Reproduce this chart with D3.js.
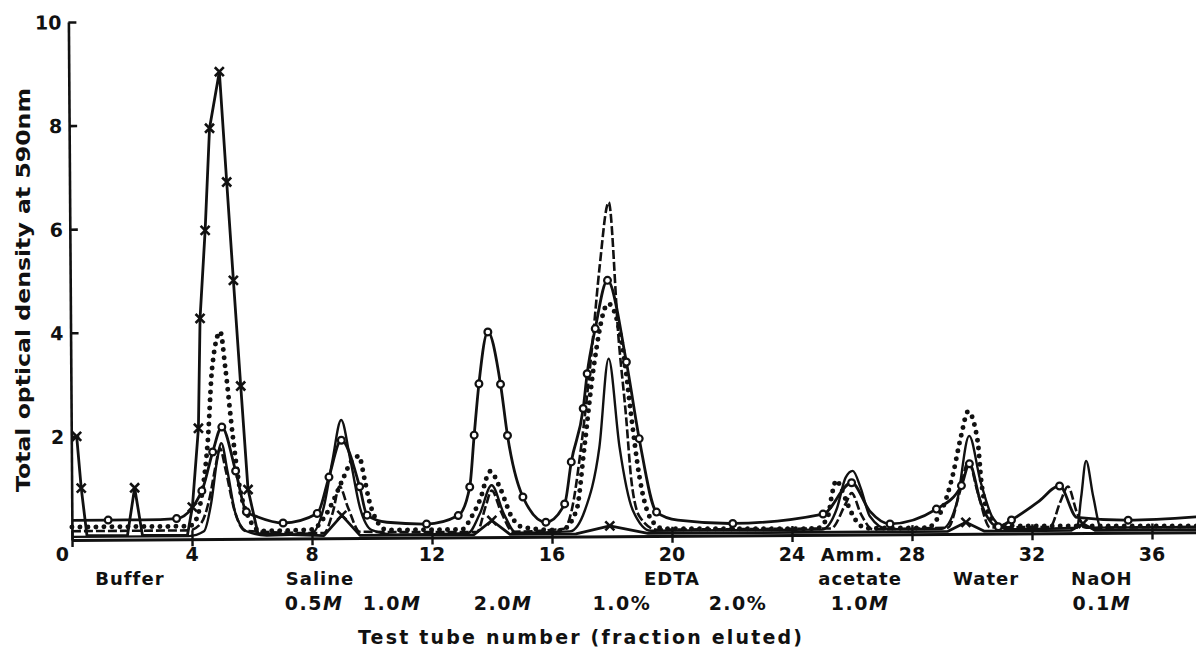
<!DOCTYPE html>
<html><head><meta charset="utf-8">
<script src="https://cdn.jsdelivr.net/npm/d3@7"></script>
<style>
html,body{margin:0;padding:0;background:#fff;}
svg{display:block;}
text{font-family:"DejaVu Sans",sans-serif;font-weight:bold;fill:#111;}
</style></head><body>
<svg id="chart" width="1196" height="647"></svg>
<script>
// ---------- data ----------
const xTicks = [0,4,8,12,16,20,24,28,32,36];
const yTicks = [2,4,6,8,10];

// [tube, optical density, marker(1/0)]
const crossSeries = [[0.18,2.0,1],[0.32,1.0,1],[0.5,0.08,0],[1.85,0.08,0],[2.1,1.0,1],[2.35,0.08,0],[3.85,0.08,0],[4.02,0.62,1],[4.24,2.14,1],[4.32,4.26,1],[4.51,5.96,1],[4.68,7.93,1],[5.02,9.02,1],[5.24,6.89,1],[5.44,4.99,1],[5.66,2.95,1],[5.88,0.95,1],[6.2,0.1,0],[8.4,0.05,0],[9.0,0.44,1],[9.6,0.05,0],[13.4,0.05,0],[14.0,0.32,1],[14.6,0.05,0],[16.8,0.05,0],[17.93,0.2,1],[19.2,0.05,0],[29.2,0.05,0],[29.8,0.22,1],[30.4,0.05,0],[33.3,0.05,0],[33.7,0.18,1],[34.1,0.05,0],[37.6,0.05,0]];

const circleSeries = [[0,0.38,0],[1.21,0.38,1],[2.4,0.38,0],[3.49,0.40,1],[4.34,0.93,1],[4.71,1.68,1],[5.02,2.16,1],[5.47,1.31,1],[5.82,0.52,1],[6.2,0.42,0],[7.04,0.30,1],[8.18,0.48,1],[8.58,1.18,1],[9.0,1.89,1],[9.6,0.99,1],[9.84,0.44,1],[10.5,0.3,0],[11.82,0.26,1],[12.88,0.42,1],[13.27,0.97,1],[13.43,1.97,1],[13.6,2.96,1],[13.91,3.96,1],[14.32,2.95,1],[14.54,1.96,1],[15.04,0.77,1],[15.8,0.28,1],[16.43,0.63,1],[16.66,1.44,1],[17.07,2.47,1],[17.21,3.14,1],[17.49,4.01,1],[17.91,4.94,1],[18.52,3.36,1],[18.93,1.88,1],[19.49,0.46,1],[20.2,0.3,0],[22.03,0.23,1],[25.04,0.40,1],[26.0,1.0,1],[26.6,0.45,0],[27.27,0.2,1],[28.82,0.48,1],[29.66,0.93,1],[29.93,1.35,1],[30.3,0.6,0],[30.88,0.13,1],[31.32,0.26,1],[32.2,0.6,0],[32.93,0.91,1],[33.5,0.3,0],[35.21,0.24,1],[37.6,0.3,0]];

const dottedSeries = [[0,0.25],[3.9,0.25],[4.16,0.4],[4.35,0.9],[4.55,1.9],[4.71,3.3],[4.99,4.0],[5.15,3.3],[5.38,2.0],[5.6,1.0],[5.9,0.4],[6.3,0.15],[8.0,0.17],[8.35,0.35],[8.7,0.7],[9.05,1.15],[9.35,1.5],[9.58,1.58],[9.77,1.12],[9.91,0.73],[10.1,0.4],[10.5,0.15],[13.0,0.15],[13.32,0.39],[13.6,0.71],[13.96,1.27],[14.27,0.96],[14.66,0.39],[15.0,0.19],[16.3,0.12],[16.82,0.5],[17.1,1.72],[17.43,3.27],[17.93,4.49],[18.43,3.52],[18.66,2.36],[18.93,1.14],[19.27,0.36],[19.7,0.14],[24.8,0.12],[25.2,0.35],[25.35,0.8],[25.49,1.05],[25.66,0.88],[25.85,0.6],[26.1,0.3],[26.5,0.12],[28.5,0.12],[28.93,0.38],[29.16,0.7],[29.38,1.15],[29.66,1.89],[29.9,2.36],[30.21,1.79],[30.32,1.02],[30.49,0.5],[30.93,0.15],[37.6,0.12]];

const dashedSeries = [[0,0.17],[3.9,0.17],[4.3,0.3],[4.6,0.8],[4.8,1.4],[4.95,1.75],[5.15,1.3],[5.4,0.6],[5.8,0.15],[8.4,0.1],[8.7,0.5],[8.93,1.0],[9.2,0.6],[9.6,0.12],[13.5,0.1],[13.8,0.6],[14.0,0.9],[14.3,0.5],[14.7,0.1],[16.4,0.15],[16.66,0.5],[16.99,1.72],[17.38,3.65],[17.65,5.2],[17.97,6.45],[18.27,3.78],[18.49,2.36],[18.66,1.07],[18.93,0.37],[19.5,0.12],[25.3,0.12],[25.8,0.6],[26.0,0.8],[26.3,0.4],[26.7,0.1],[29.2,0.12],[29.6,0.8],[29.9,1.4],[30.2,0.8],[30.6,0.12],[32.6,0.12],[32.95,0.6],[33.21,0.9],[33.5,0.4],[33.8,0.1],[37.6,0.1]];

const solidSeries = [[0,0.06],[3.9,0.06],[4.4,0.15],[4.65,0.7],[4.85,1.5],[5.0,1.85],[5.2,1.3],[5.45,0.5],[5.8,0.15],[6.5,0.06],[8.0,0.1],[8.4,0.6],[8.7,1.5],[9.0,2.28],[9.3,1.5],[9.6,0.6],[10.0,0.15],[10.8,0.06],[13.2,0.08],[13.6,0.45],[14.0,1.0],[14.4,0.45],[14.8,0.08],[16.6,0.1],[17.1,0.5],[17.6,1.72],[17.93,3.43],[18.27,1.73],[18.7,0.5],[19.3,0.1],[25.0,0.1],[25.5,0.5],[25.8,1.1],[26.04,1.23],[26.3,0.9],[26.6,0.35],[27.2,0.1],[29.0,0.1],[29.5,0.6],[29.93,1.89],[30.3,1.0],[30.7,0.3],[31.2,0.08],[33.5,0.1],[33.65,0.7],[33.82,1.39],[34.05,0.7],[34.3,0.1],[37.6,0.1]];

// eluent labels: text, tube position, row (0 = tick row, 1 = name row)
const eluentNames = [["Buffer",1.93,1],["Saline",8.27,1],["EDTA",20.0,1],["Amm.",26.0,0],["acetate",26.27,1],["Water",30.47,1],["NaOH",34.33,1]];
// concentration: number, unit (italic), tube position
const eluentConc = [["0.5","M",8.07],["1.0","M",10.67],["2.0","M",14.37],["1.0%","",18.33],["2.0%","",22.2],["1.0","M",26.27],["0.1","M",34.33]];

const xTitle = "Test tube number (fraction eluted)";
const yTitle = "Total optical density at 590nm";

// ---------- drawing ----------
const svg = d3.select("#chart");
const x = d3.scaleLinear().domain([0,37.5]).range([72,1197]);
const y = d3.scaleLinear().domain([0,10]).range([540,22]);
const plot = svg.append("g").attr("transform","rotate(-0.4,72,540)");

// axes
const yAxis = plot.append("g").attr("transform",`translate(${x(0)},0)`)
  .call(d3.axisRight(y).tickValues(yTicks).tickSizeInner(8).tickSizeOuter(0).tickFormat(""));
yAxis.select(".domain").attr("stroke","#111").attr("stroke-width",2.6);
yAxis.selectAll(".tick line").attr("stroke","#111").attr("stroke-width",2.6);
yAxis.selectAll(".tick").append("text").attr("x",-7).attr("dy","0.36em")
  .attr("text-anchor","end").style("font-size","19px").text(d=>d);

const xAxis = plot.append("g").attr("transform",`translate(0,${y(0)})`)
  .call(d3.axisBottom(x).tickValues(xTicks).tickSizeInner(7).tickSizeOuter(0).tickFormat(""));
xAxis.select(".domain").attr("stroke","#111").attr("stroke-width",3);
xAxis.selectAll(".tick line").attr("stroke","#111").attr("stroke-width",2.4).attr("y1",-9);

// x tick labels
svg.append("g").selectAll("text").data(xTicks).join("text")
  .attr("x",d=>d===0? x(0)-3 : x(d))
  .attr("y",554).attr("dy","0.36em")
  .attr("text-anchor",d=>d===0?"end":"middle")
  .style("font-size","19px").text(d=>d);

// series
const lineLinear = d3.line().x(d=>x(d[0])).y(d=>y(d[1]));
const lineSmooth = d3.line().x(d=>x(d[0])).y(d=>y(d[1])).curve(d3.curveMonotoneX);

plot.append("path").datum(solidSeries).attr("d",lineSmooth)
  .attr("fill","none").attr("stroke","#111").attr("stroke-width",2.4).attr("stroke-linejoin","round");
plot.append("path").datum(dashedSeries).attr("d",lineSmooth)
  .attr("fill","none").attr("stroke","#111").attr("stroke-width",2.6).attr("stroke-dasharray","9,3");
plot.append("path").datum(dottedSeries).attr("d",lineSmooth)
  .attr("fill","none").attr("stroke","#111").attr("stroke-width",5)
  .attr("stroke-linecap","round").attr("stroke-dasharray","0,8");
plot.append("path").datum(crossSeries).attr("d",lineLinear)
  .attr("fill","none").attr("stroke","#111").attr("stroke-width",2.8).attr("stroke-linejoin","round");
plot.append("path").datum(circleSeries).attr("d",lineSmooth)
  .attr("fill","none").attr("stroke","#111").attr("stroke-width",2.8).attr("stroke-linejoin","round");

plot.append("g").selectAll("path").data(crossSeries.filter(d=>d[2])).join("path")
  .attr("transform",d=>`translate(${x(d[0])},${y(d[1])})`)
  .attr("d","M-4.5,-4.5L4.5,4.5M-4.5,4.5L4.5,-4.5")
  .attr("stroke","#111").attr("stroke-width",2.6).attr("fill","none");
plot.append("g").selectAll("circle").data(circleSeries.filter(d=>d[2])).join("circle")
  .attr("cx",d=>x(d[0])).attr("cy",d=>y(d[1])).attr("r",3.4)
  .attr("fill","#fff").attr("stroke","#111").attr("stroke-width",2.2);

// eluent labels
const rowY = [555,579,603];
svg.append("g").selectAll("text").data(eluentNames).join("text")
  .attr("x",d=>x(d[1])).attr("y",d=>rowY[d[2]]).attr("dy","0.36em")
  .attr("text-anchor","middle").style("font-size","18px").style("letter-spacing","1px")
  .text(d=>d[0]);
const conc = svg.append("g").selectAll("text").data(eluentConc).join("text")
  .attr("x",d=>x(d[2])).attr("y",rowY[2]).attr("dy","0.36em")
  .attr("text-anchor","middle").style("font-size","19px").style("letter-spacing","1.5px");
conc.append("tspan").text(d=>d[0]);
conc.append("tspan").style("font-style","italic").text(d=>d[1]);

// axis titles
svg.append("text").attr("x",580).attr("y",637).attr("dy","0.36em")
  .attr("text-anchor","middle").style("font-size","19px")
  .attr("textLength",444).attr("lengthAdjust","spacing").text(xTitle);
svg.append("text").attr("transform","translate(23,290) rotate(-90)").attr("dy","0.36em")
  .attr("text-anchor","middle").style("font-size","19px").attr("textLength",404)
  .attr("lengthAdjust","spacingAndGlyphs").text(yTitle);
</script>
</body></html>
